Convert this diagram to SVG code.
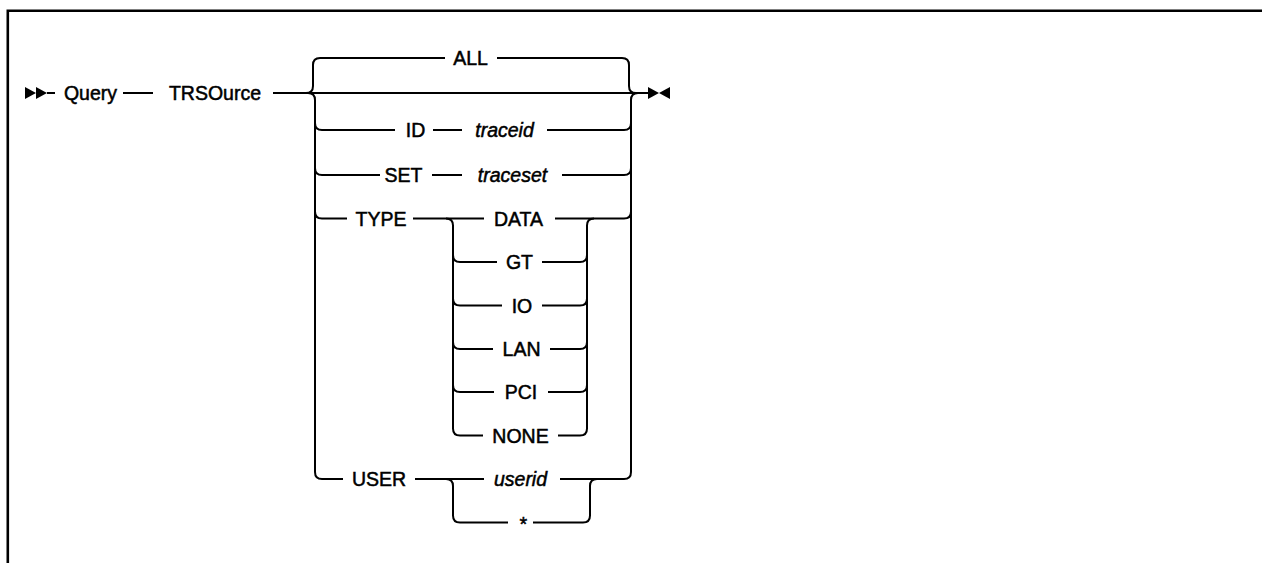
<svg xmlns="http://www.w3.org/2000/svg" width="1262" height="563" viewBox="0 0 1262 563">
<style>
.t{font-family:"Liberation Sans",Arial,sans-serif;font-size:19.5px;fill:#000;stroke:#000;stroke-width:0.5;text-anchor:middle}
.i{font-style:italic}
.c{fill:none;stroke:#000;stroke-width:2}
</style>
<rect width="1262" height="563" fill="#fff"/>
<path d="M7.8 563 V10.8 H1262" fill="none" stroke="#000" stroke-width="2.6"/>
<g id="connectors">
<polygon points="25,87 36,93 25,99" fill="#000"/>
<polygon points="36,87 47,93 36,99" fill="#000"/>
<path class="c" d="M47 93 H55 M123 93 H153 M273 93 H648"/>
<polygon points="648,87 659,93 648,99" fill="#000"/>
<polygon points="670,87 659,93 670,99" fill="#000"/>
<path class="c" d="M306 93 Q313 93 313 86 V65 Q313 58 320 58 H445 M497 58 H622 Q629 58 629 65 V86 Q629 93 636 93"/>
<path class="c" d="M308 93 Q315 93 315 100 V472 Q315 479 322 479 M315 123 Q315 130 322 130 M315 168 Q315 175 322 175 M315 211.5 Q315 218.5 322 218.5"/>
<path class="c" d="M638 93 Q631 93 631 100 V472 Q631 479 624 479 M631 123 Q631 130 624 130 M631 168 Q631 175 624 175 M631 211.5 Q631 218.5 624 218.5"/>
<path class="c" d="M322 130 H395 M433 130 H462 M547 130 H624"/>
<path class="c" d="M322 175 H380 M432 175 H462 M562 175 H624"/>
<path class="c" d="M322 218.5 H347 M413 218.5 H484 M555 218.5 H624"/>
<path class="c" d="M446 218.5 Q453 218.5 453 225.5 V428.5 Q453 435.5 460 435.5 M453 255 Q453 262 460 262 M453 298.5 Q453 305.5 460 305.5 M453 342 Q453 349 460 349 M453 385 Q453 392 460 392"/>
<path class="c" d="M594 218.5 Q587 218.5 587 225.5 V428.5 Q587 435.5 580 435.5 M587 255 Q587 262 580 262 M587 298.5 Q587 305.5 580 305.5 M587 342 Q587 349 580 349 M587 385 Q587 392 580 392"/>
<path class="c" d="M460 262 H497 M542 262 H580 M460 305.5 H502 M542 305.5 H580 M460 349 H493 M550 349 H580 M460 392 H494 M548 392 H580 M460 435.5 H483 M558 435.5 H580"/>
<path class="c" d="M322 479 H343 M415 479 H484 M560 479 H624"/>
<path class="c" d="M446 479 Q453 479 453 486 V515.5 Q453 522.5 460 522.5 H508 M533 522.5 H583 Q590 522.5 590 515.5 V486 Q590 479 597 479"/>
</g>
<g id="n-query"><text class="t" x="90.5" y="100">Query</text></g>
<g id="n-trsource"><text class="t" x="215" y="100">TRSOurce</text></g>
<g id="n-all"><text class="t" x="470.5" y="65">ALL</text></g>
<g id="n-id"><text class="t" x="415.5" y="137">ID</text></g>
<g id="n-traceid"><text class="t i" x="504.5" y="137">traceid</text></g>
<g id="n-set"><text class="t" x="403.5" y="182">SET</text></g>
<g id="n-traceset"><text class="t i" x="512.5" y="182">traceset</text></g>
<g id="n-type"><text class="t" x="381" y="225.5">TYPE</text></g>
<g id="n-data"><text class="t" x="518.5" y="225.5">DATA</text></g>
<g id="n-gt"><text class="t" x="519.5" y="269">GT</text></g>
<g id="n-io"><text class="t" x="522" y="312.5">IO</text></g>
<g id="n-lan"><text class="t" x="521.5" y="356">LAN</text></g>
<g id="n-pci"><text class="t" x="521" y="399">PCI</text></g>
<g id="n-none"><text class="t" x="520.5" y="442.5">NONE</text></g>
<g id="n-user"><text class="t" x="379" y="486">USER</text></g>
<g id="n-userid"><text class="t i" x="520.5" y="486">userid</text></g>
<g id="n-star"><text class="t i" x="522.5" y="531">*</text></g>
</svg>
